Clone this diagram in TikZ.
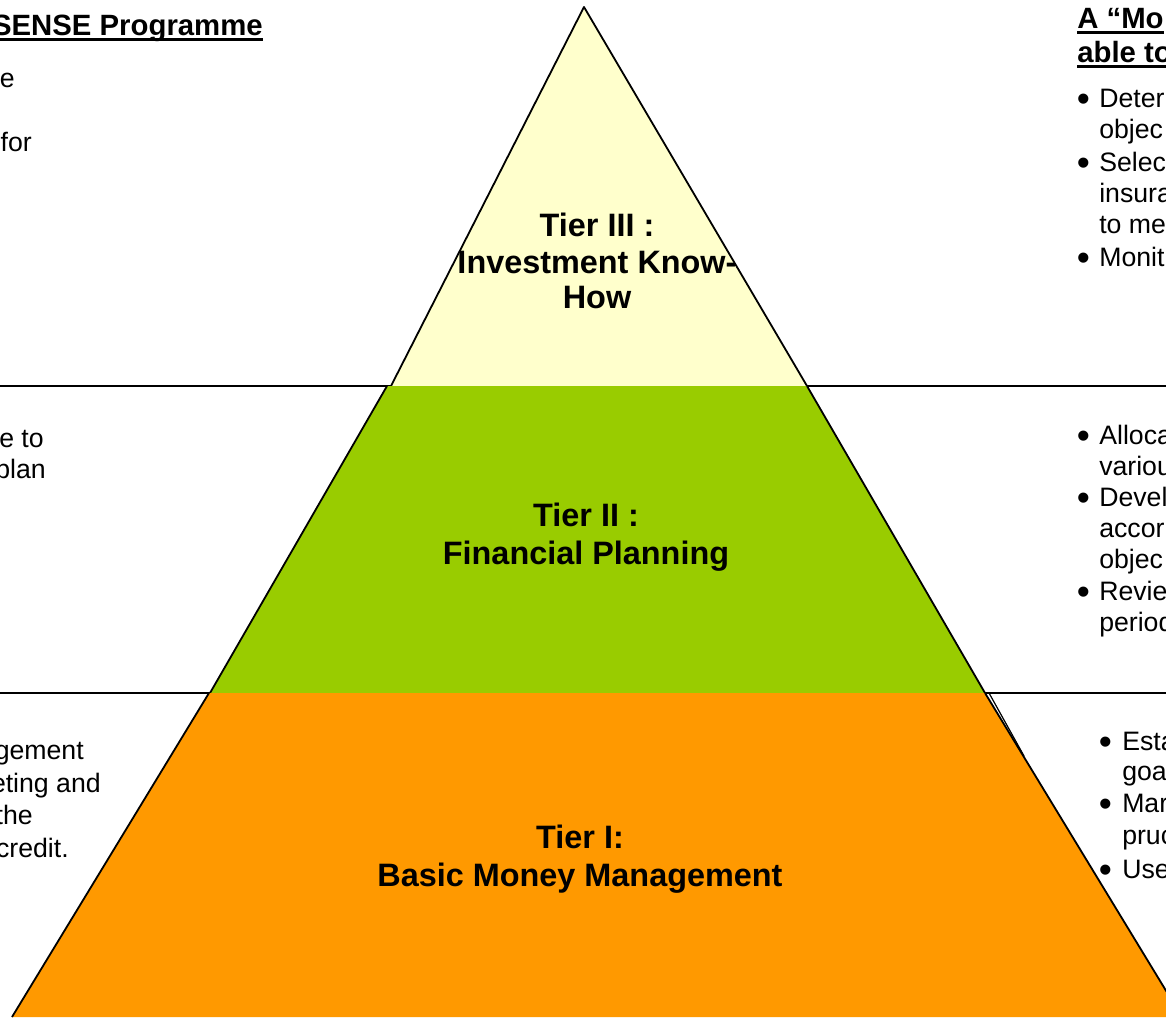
\documentclass[tikz,border=0pt]{standalone}
\usepackage{fontspec}
\setmainfont{Liberation Sans}
\definecolor{tierthree}{HTML}{FFFFCC}
\definecolor{tiertwo}{HTML}{99CC00}
\definecolor{tierone}{HTML}{FF9900}
\newcommand\ulbar[1]{\setbox0\hbox{#1}\rlap{\rule[-4.5pt]{\wd0}{2.25pt}}\box0}
\newcommand\bulitem[1]{\makebox[#1][l]{\fontsize{28}{30}\selectfont\raisebox{-3.4pt}{•}}}
\begin{document}
\begin{tikzpicture}[x=0.75pt,y=-0.75pt,
  body/.style={inner sep=0pt, anchor=base west, font=\fontsize{20}{23}\selectfont},
  bodyE/.style={body, anchor=base east},
  head/.style={inner sep=0pt, anchor=base west, font=\bfseries\fontsize{22}{25}\selectfont},
  headE/.style={head, anchor=base east},
  tiertxt/.style={inner sep=0pt, anchor=base, font=\bfseries\fontsize{24.3}{28}\selectfont},
  sepline/.style={line width=1.3pt, black},
  edgeline/.style={line width=1.35pt, black, line join=round}]
\useasboundingbox (0,0) rectangle (1166,1017);
\fill[white] (0,0) rectangle (1166,1017);
% separators
\draw[sepline] (0,386) -- (1166,386);
\draw[sepline] (0,693) -- (1166,693);
% tier shapes
\fill[tierthree] (584,7) -- (807,386) -- (391,386) -- cycle;
\draw[edgeline] (391,386) -- (584,7) -- (807,386);
\fill[tiertwo] (387,386) -- (807,386) -- (985,693) -- (210,693) -- cycle;
\draw[edgeline] (387,386) -- (210,693);
\draw[edgeline] (807,386) -- (985,693);
\fill[tierone] (209,693) -- (985,693) -- (1182,1017) -- (12,1017) -- cycle;
\draw[edgeline] (209,693) -- (12,1017);
\draw[edgeline] (985,693) -- (1182,1017);
\draw[line width=0.9pt] (989,693) -- (1024,756);
% tier titles
\node[tiertxt] (t3a) at (597,236) {Tier III :};
\node[tiertxt] (t3b) at (597,273) {Investment Know-};
\node[tiertxt] (t3c) at (597,308) {How};
\node[tiertxt] (t2a) at (586,526) {Tier II :};
\node[tiertxt] (t2b) at (586,564) {Financial Planning};
\node[tiertxt] (t1a) at (580,848) {Tier I:};
\node[tiertxt] (t1b) at (580,886) {Basic Money Management};
% left column
\node[headE] (lh) at (263,35) {\ulbar{SENSE Programme}};
\node[bodyE] (l1) at (15,87) {e};
\node[bodyE] (l2) at (32,151) {for};
\node[bodyE] (l3) at (44,447) {e to};
\node[bodyE] (l4) at (46,478) {plan};
\node[bodyE] (l5) at (84,759) {gement};
\node[bodyE] (l6) at (101,792) {eting and};
\node[bodyE] (l7) at (33,824) {the};
\node[bodyE] (l8) at (69,857) {credit.};
% right column headings
\node[head] (rh1) at (1077,28) {\ulbar{A “Mo}};
\node[head] (rh2) at (1077,62) {\ulbar{able to}};
% right top bullets
\node[body] (r1) at (1076.5,107) {\bulitem{16.9pt}Deter};
\node[body] (r2) at (1099,138) {objec};
\node[body] (r3) at (1076.5,171) {\bulitem{16.9pt}Selec};
\node[body] (r4) at (1099,202) {insura};
\node[body] (r5) at (1099,233) {to me};
\node[body] (r6) at (1076.5,266) {\bulitem{16.9pt}Monit};
% right middle bullets
\node[body] (m1) at (1076.5,444) {\bulitem{16.9pt}Alloca};
\node[body] (m2) at (1099,475) {variou};
\node[body] (m3) at (1076.5,506) {\bulitem{16.9pt}Devel};
\node[body] (m4) at (1099,537) {accor};
\node[body] (m5) at (1099,568) {objec};
\node[body] (m6) at (1076.5,600) {\bulitem{16.9pt}Revie};
\node[body] (m7) at (1099,631) {period};
% right bottom bullets
\node[body] (n1) at (1098.5,750) {\bulitem{17.6pt}Esta};
\node[body] (n2) at (1122,780) {goa};
\node[body] (n3) at (1098.5,812) {\bulitem{17.6pt}Mar};
\node[body] (n4) at (1122,844) {pruc};
\node[body] (n5) at (1098.5,878) {\bulitem{17.6pt}Use};
\end{tikzpicture}
\end{document}
